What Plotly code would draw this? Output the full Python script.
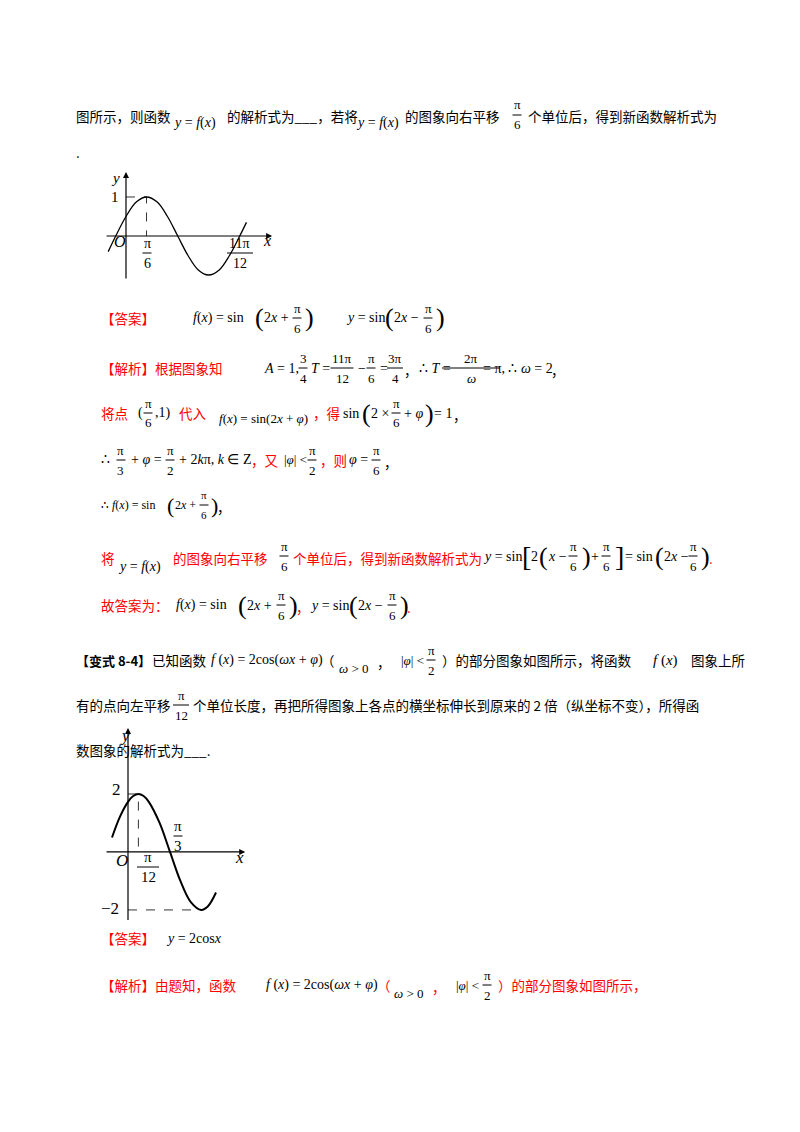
import plotly.graph_objects as go

# ---------- data ----------
# plot 1: y = sin(2x + pi/6)
c1_x = [-0.45, -0.26, 0.0, 0.26, 0.52, 0.79, 1.05, 1.31, 1.57, 1.83, 2.09, 2.36, 2.62, 2.88, 3.05]
c1_y = [-0.40, 0.0, 0.50, 0.87, 1.00, 0.87, 0.50, 0.0, -0.50, -0.87, -1.00, -0.87, -0.50, 0.0, 0.35]
# plot 2: y = 2cos(2x - pi/6)
c2_x = [-0.40, -0.20, 0.0, 0.13, 0.26, 0.39, 0.52, 0.79, 1.05, 1.31, 1.57, 1.83, 2.00, 2.20]
c2_y = [0.50, 1.22, 1.73, 1.93, 2.00, 1.93, 1.73, 1.00, 0.0, -1.00, -1.73, -2.00, -1.87, -1.40]
p1_dash = [(0, 1.0), (0.52, 1.0), (0.52, 0.0)]
p2_dash = [(0, 2.0), (0.26, 2.0), (0.26, 0.0)]
p2_dash_min = [(0, -2.0), (1.83, -2.0)]

W, H = 800, 1132
OFF = 8  # page body margin of the html page
RED = "#ff0000"
CJK = "Noto Sans CJK SC"
SERIF = "Liberation Serif"
CS = 13.5

fig = go.Figure()
fig.add_trace(go.Scatter(x=c1_x, y=c1_y, mode="lines", line=dict(color="black", width=1.3, shape="spline"),
                         xaxis="x", yaxis="y", hoverinfo="skip"))
fig.add_trace(go.Scatter(x=[p[0] for p in p1_dash], y=[p[1] for p in p1_dash], mode="lines",
                         line=dict(color="black", width=0.8, dash="dash"), xaxis="x", yaxis="y"))
fig.add_trace(go.Scatter(x=c2_x, y=c2_y, mode="lines", line=dict(color="black", width=2, shape="spline"),
                         xaxis="x2", yaxis="y2", hoverinfo="skip"))
fig.add_trace(go.Scatter(x=[p[0] for p in p2_dash], y=[p[1] for p in p2_dash], mode="lines",
                         line=dict(color="black", width=0.8, dash="dash"), xaxis="x2", yaxis="y2"))
fig.add_trace(go.Scatter(x=[p[0] for p in p2_dash_min], y=[p[1] for p in p2_dash_min], mode="lines",
                         line=dict(color="black", width=0.8, dash="dash"), xaxis="x2", yaxis="y2"))

ann = []
shapes = []

def px(x):
    return (x - OFF) / W

def py(y):
    return 1 - (y - OFF) / H

def T(x, y, text, color="black", size=CS, font=CJK, anchor="left"):
    ann.append(dict(x=px(x), y=py(y), xref="paper", yref="paper", text=text, showarrow=False,
                    xanchor=anchor, yanchor="middle", borderpad=0,
                    font=dict(family=font, size=size, color=color)))

def M(x, y, text, size=15, color="black"):
    T(x, y, text, color=color, size=size, font=SERIF)

def F(xc, y, num, den, size=13, w=None):
    if w is None:
        w = max(len(num), len(den)) * 7 + 2
    T(xc, y - 10, num, size=size, font=SERIF, anchor="center")
    T(xc, y + 10, den, size=size, font=SERIF, anchor="center")
    shapes.append(dict(type="line", xref="paper", yref="paper", x0=px(xc - w / 2), x1=px(xc + w / 2),
                       y0=py(y), y1=py(y), line=dict(color="black", width=1)))

def P(x, y, ch, size=26):
    T(x, y, ch, size=size, font=SERIF)

# line 1
T(75, 116, "图所示，则函数")
M(172, 123, "<i>y</i> = <i>f</i>(<i>x</i>)", 14)
T(226, 116, "的解析式为___，若将")
M(355, 123, "<i>y</i> = <i>f</i>(<i>x</i>)", 14)
T(404, 116, "的图象向右平移")
F(517, 115, "π", "6")
T(527, 116, "个单位后，得到新函数解析式为")
T(75, 152, ".")

# answer 1
T(100, 318, "【答案】", RED)
M(192, 318, "<i>f</i>(<i>x</i>) = sin", 14)
P(254, 318, "(")
M(263, 318, "2<i>x</i> +", 14)
F(297, 318, "π", "6")
P(304, 318, ")")
M(345, 318, "<i>y</i> = sin", 14)
P(384, 318, "(")
M(393, 318, "2<i>x</i> −", 14)
F(428, 318, "π", "6")
P(435, 318, ")")

# analysis line
T(100, 368, "【解析】根据图象知", RED)
M(263, 368, "<i>A</i> = 1,", 14)
F(303, 368, "3", "4")
M(310, 368, "<i>T</i> =", 14)
F(342, 368, "11π", "12")
M(357, 368, "−", 14)
F(371, 368, "π", "6")
M(379, 368, "=", 14)
F(395, 368, "3π", "4")
T(403, 370, "，")
M(418, 368, "∴ <i>T</i> =", 14)
F(471, 368, "2π", "<i>ω</i>")
M(482, 368, "= π, ∴ <i>ω</i> = 2", 14)
T(550, 370, "，")

# line 413
T(100, 413, "将点", RED)
M(137, 413, "(", 14)
F(148, 413, "π", "6")
M(154, 413, ",1)", 14)
T(178, 413, "代入", RED)
M(218, 418, "<i>f</i>(<i>x</i>) = sin(2<i>x</i> + <i>φ</i>)", 13)
T(312, 413, "，得", RED)
M(342, 413, "sin", 14)
P(361, 413, "(")
M(370, 413, "2 ×", 14)
F(396, 413, "π", "6")
M(403, 413, "+ <i>φ</i>", 14)
P(424, 413, ")")
M(433, 413, "= 1", 14)
T(452, 415, "，")

# line 460
M(100, 460, "∴", 14)
F(121, 460, "π", "3")
M(130, 460, "+ <i>φ</i> =", 14)
F(170, 460, "π", "2")
M(178, 460, "+ 2<i>k</i>π, <i>k</i> ∈ Z", 14)
T(250, 460, "，又", RED)
M(283, 460, "|<i>φ</i>| <", 13)
F(312, 460, "π", "2")
T(319, 460, "，则", RED)
M(348, 460, "<i>φ</i> =", 14)
F(376, 460, "π", "6")
T(383, 462, "，")

# line 505
M(100, 505, "∴ <i>f</i>(<i>x</i>) = sin", 12)
P(166, 505, "(", 22)
M(174, 505, "2<i>x</i> +", 12)
F(204, 505, "π", "6", size=11)
P(210, 505, ")", 22)
T(216, 507, "，")

# line 558
T(100, 558, "将", RED)
M(117, 567, "<i>y</i> = <i>f</i>(<i>x</i>)", 14)
T(172, 558, "的图象向右平移", RED)
F(284, 556, "π", "6")
T(292, 558, "个单位后，得到新函数解析式为", RED)
M(482, 556, "<i>y</i> = sin", 14)
P(521, 556, "[", 28)
M(530, 556, "2", 14)
P(538, 556, "(")
M(547, 556, "<i>x</i> −", 14)
F(573, 556, "π", "6")
P(581, 556, ")")
M(590, 556, "+", 14)
F(606, 556, "π", "6")
P(614, 556, "]", 28)
M(624, 556, "= sin", 14)
P(654, 556, "(")
M(663, 556, "2<i>x</i> −", 14)
F(693, 556, "π", "6")
P(700, 556, ")")
T(708, 558, ".", RED)

# line 605
T(100, 605, "故答案为：", RED)
M(175, 605, "<i>f</i>(<i>x</i>) = sin", 14)
P(237, 605, "(")
M(246, 605, "2<i>x</i> +", 14)
F(281, 605, "π", "6")
P(288, 605, ")")
T(295, 607, "，", RED)
M(309, 605, "<i>y</i> = sin", 14)
P(348, 605, "(")
M(357, 605, "2<i>x</i> −", 14)
F(392, 605, "π", "6")
P(399, 605, ")")
T(406, 607, ".", RED)

# problem 8-4
T(75, 660, "<b>【变式 8-4】</b>", size=13)
T(151, 660, "已知函数")
M(210, 660, "<i>f</i> (<i>x</i>) = 2cos(<i>ωx</i> + <i>φ</i>)", 14)
T(320, 660, "（")
M(338, 668, "<i>ω</i> > 0", 13)
T(376, 662, "，")
M(400, 660, "|<i>φ</i>| <", 13)
F(431, 660, "π", "2")
T(441, 660, "）的部分图象如图所示，将函数")
M(652, 660, "<i>f</i> (<i>x</i>)", 15)
T(690, 660, "图象上所")
T(75, 705, "有的点向左平移")
F(181, 705, "π", "12")
T(192, 705, "个单位长度，再把所得图象上各点的横坐标伸长到原来的 2 倍（纵坐标不变），所得函")
T(75, 750, "数图象的解析式为___.")

# answer 2
T(100, 938, "【答案】", RED)
M(165, 938, "<i>y</i> = 2cos<i>x</i>", 14)
T(100, 985, "【解析】由题知，函数", RED)
M(265, 985, "<i>f</i> (<i>x</i>) = 2cos(<i>ωx</i> + <i>φ</i>)", 14)
T(376, 985, "（", RED)
M(393, 993, "<i>ω</i> > 0", 13)
T(431, 987, "，", RED)
M(455, 985, "|<i>φ</i>| <", 13)
F(487, 985, "π", "2")
T(497, 985, "）的部分图象如图所示，", RED)

# plot 1 labels
M(110, 178, "<i>y</i>", 15)
M(110, 197, "1", 15)
M(113, 241, "<i>O</i>", 16)
F(147, 253, "π", "6", size=14)
F(240, 253, "11π", "12", size=14, w=26)
M(262, 240, "<i>x</i>", 16)
# plot 2 labels
M(119, 735, "<i>y</i>", 17)
M(111, 789, "2", 17)
F(178, 836, "π", "3", size=15)
M(115, 860, "<i>O</i>", 17)
F(148, 867, "π", "12", size=15, w=22)
M(234, 857, "<i>x</i>", 17)
M(100, 908, "−2", 17)

# axes arrows drawn in data coordinates
for xr, yr, x0, x1, y0, y1 in [("x", "y", -0.53, 3.7, -1.13, 1.64), ("x2", "y2", -0.575, 2.93, -2.4, 4.28)]:
    ann.append(dict(x=x1, y=0, ax=x0, ay=0, xref=xr, yref=yr, axref=xr, ayref=yr, text="", showarrow=True,
                    arrowhead=2, arrowsize=1, arrowwidth=1.2, arrowcolor="black"))
    ann.append(dict(x=0, y=y1, ax=0, ay=y0, xref=xr, yref=yr, axref=xr, ayref=yr, text="", showarrow=True,
                    arrowhead=2, arrowsize=1, arrowwidth=1.2, arrowcolor="black"))

ax_common = dict(visible=False, fixedrange=True)
fig.update_layout(
    width=W, height=H, margin=dict(l=0, r=0, t=0, b=0), showlegend=False,
    paper_bgcolor="white", plot_bgcolor="white",
    xaxis=dict(domain=[px(100), px(280)], range=[-0.658, 3.899], **ax_common),
    yaxis=dict(domain=[py(280), py(170)], range=[-1.128, 1.692], **ax_common),
    xaxis2=dict(domain=[px(100), px(250)], range=[-0.7, 3.05], **ax_common),
    yaxis2=dict(domain=[py(925), py(725)], range=[-2.52, 4.38], **ax_common),
    annotations=ann, shapes=shapes,
)
fig.write_html("out.html")
